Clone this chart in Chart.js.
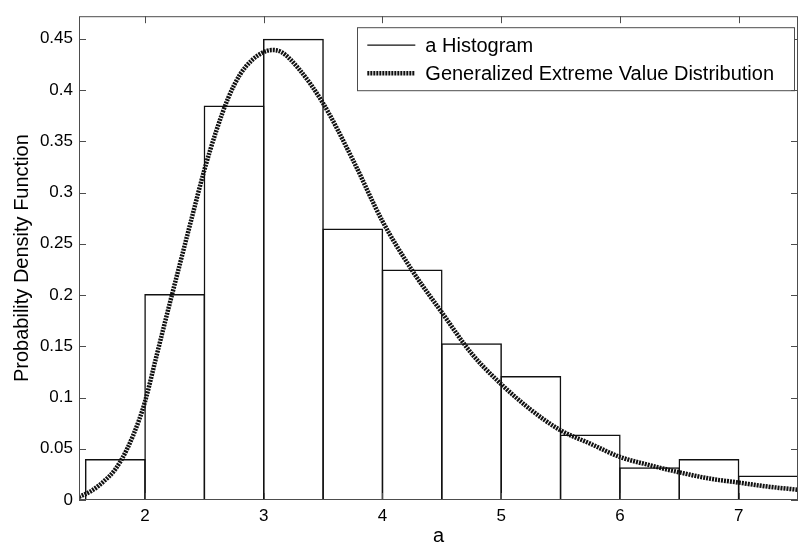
<!DOCTYPE html>
<html>
<head>
<meta charset="utf-8">
<script src="https://cdn.jsdelivr.net/npm/chart.js@4.4.1/dist/chart.umd.min.js"></script>
<style>
  html, body { margin: 0; padding: 0; background: #fff; }
  #wrap { width: 801px; height: 548px; }
</style>
</head>
<body>
<div id="wrap"><canvas id="chart" width="801" height="548"></canvas></div>
<script>
// histogram bins (width 0.5), centers and densities
const binCenters = [1.75, 2.25, 2.75, 3.25, 3.75, 4.25, 4.75, 5.25, 5.75, 6.25, 6.75, 7.25];
const binHeights = [0.040, 0.201, 0.385, 0.450, 0.265, 0.225, 0.153, 0.121, 0.064, 0.032, 0.040, 0.024];

// fitted GEV curve, sampled by eye
const curveX = [1.444, 1.55, 1.65, 1.75, 1.85, 1.95, 2.0, 2.1, 2.2, 2.3, 2.4, 2.5, 2.6, 2.7, 2.8, 2.9, 3.0, 3.07, 3.15, 3.3, 3.5, 3.75, 4.0, 4.25, 4.5, 4.75, 5.0, 5.25, 5.5, 5.75, 6.0, 6.25, 6.5, 6.75, 7.0, 7.25, 7.5];
const curveY = [0.003, 0.009, 0.018, 0.030, 0.050, 0.078, 0.096, 0.142, 0.188, 0.233, 0.278, 0.322, 0.360, 0.392, 0.415, 0.429, 0.437, 0.439, 0.437, 0.420, 0.387, 0.332, 0.272, 0.224, 0.183, 0.143, 0.113, 0.088, 0.068, 0.055, 0.042, 0.034, 0.027, 0.021, 0.017, 0.013, 0.010];

const xTicks = [2, 3, 4, 5, 6, 7];
const yTicks = [0, 0.05, 0.1, 0.15, 0.2, 0.25, 0.3, 0.35, 0.4, 0.45];

const X_MIN = 1.444, X_MAX = 7.5;
const Y_MIN = 0, Y_MAX = 0.472;

const FONT = "'Liberation Sans', Arial, sans-serif";
const AXIS_COLOR = "#4d4d4d";
const BAR_LINE = 1.5;

// box round the axes, with matlab style inward ticks
const framePlugin = {
  id: "frame",
  afterDatasetsDraw(chart) {
    const { ctx, chartArea: a, scales } = chart;
    ctx.save();
    ctx.strokeStyle = AXIS_COLOR;
    ctx.lineWidth = 1;
    ctx.strokeRect(a.left + 0.5, a.top + 0.5, a.right - a.left - 1, a.bottom - a.top - 1);
    ctx.beginPath();
    xTicks.forEach(v => {
      const px = Math.round(scales.x.getPixelForValue(v)) + 0.5;
      ctx.moveTo(px, a.bottom); ctx.lineTo(px, a.bottom - 7);
      ctx.moveTo(px, a.top); ctx.lineTo(px, a.top + 7);
    });
    yTicks.forEach(v => {
      const py = Math.round(scales.y.getPixelForValue(v)) + 0.5;
      ctx.moveTo(a.left, py); ctx.lineTo(a.left + 7, py);
      ctx.moveTo(a.right, py); ctx.lineTo(a.right - 7, py);
    });
    ctx.stroke();
    ctx.restore();
  },
  afterDraw(chart) {
    // boxed legend in the upper right corner
    const { ctx, chartArea: a } = chart;
    const items = chart.data.datasets;
    ctx.save();
    ctx.font = "20px " + FONT;
    const textW = Math.max(...items.map(d => ctx.measureText(d.label).width));
    const right = a.right - 4, top = a.top + 11;
    const left = right - (68 + textW + 20);
    const h = 63;
    ctx.fillStyle = "#fff";
    ctx.fillRect(left, top, right - left, h);
    ctx.strokeStyle = AXIS_COLOR;
    ctx.lineWidth = 1;
    ctx.strokeRect(Math.round(left) + 0.5, top + 0.5, Math.round(right - left), h);
    items.forEach((d, i) => {
      const y = top + 18 + i * 28;
      ctx.beginPath();
      ctx.strokeStyle = d.borderColor;
      ctx.lineWidth = d.legendWidth;
      ctx.setLineDash(d.borderDash || []);
      ctx.moveTo(left + 10, y);
      ctx.lineTo(left + 58, y);
      ctx.stroke();
      ctx.setLineDash([]);
      ctx.fillStyle = "#000";
      ctx.textBaseline = "middle";
      ctx.fillText(d.label, left + 68, y + 1);
    });
    ctx.restore();
  }
};

new Chart(document.getElementById("chart"), {
  type: "bar",
  data: {
    datasets: [
      {
        type: "bar",
        label: "a Histogram",
        data: binCenters.map((c, i) => ({ x: c, y: binHeights[i] })),
        backgroundColor: "rgba(0,0,0,0)",
        borderColor: "#111",
        borderWidth: BAR_LINE,
        legendWidth: 1.2,
        borderSkipped: "bottom",
        // widen a hair so neighbouring outlines sit on top of each other
        barPercentage: 1.025,
        categoryPercentage: 1,
        order: 1
      },
      {
        type: "line",
        label: "Generalized Extreme Value Distribution",
        data: curveX.map((x, i) => ({ x: x, y: curveY[i] })),
        borderColor: "#111",
        borderWidth: 4.5,
        legendWidth: 4.5,
        borderDash: [2, 1],
        pointRadius: 0,
        cubicInterpolationMode: "monotone",
        fill: false,
        order: 0
      }
    ]
  },
  options: {
    responsive: false,
    animation: false,
    events: [],
    layout: { padding: { left: 0, right: 3, top: 12, bottom: 0 } },
    plugins: { legend: { display: false }, tooltip: { enabled: false } },
    scales: {
      x: {
        type: "linear",
        min: X_MIN,
        max: X_MAX,
        offset: false,
        grid: { display: false, drawTicks: false },
        border: { display: false },
        afterBuildTicks: s => { s.ticks = xTicks.map(v => ({ value: v })); },
        afterFit: s => { s.height = 48; },
        ticks: { color: "#000", padding: 6, font: { family: FONT, size: 17 }, maxRotation: 0 },
        title: { display: true, text: "a", color: "#000", font: { family: FONT, size: 20 }, padding: { top: 0, bottom: 0 } }
      },
      y: {
        type: "linear",
        min: Y_MIN,
        max: Y_MAX,
        grid: { display: false, drawTicks: false },
        border: { display: false },
        afterBuildTicks: s => { s.ticks = yTicks.map(v => ({ value: v })); },
        afterFit: s => { s.width = 79; },
        ticks: {
          color: "#000",
          padding: 6,
          font: { family: FONT, size: 17 },
          callback: v => String(Number(v.toFixed(2)))
        },
        title: { display: true, text: "Probability Density Function", color: "#000", font: { family: FONT, size: 20 }, padding: { top: 10, bottom: 0 } }
      }
    }
  },
  plugins: [framePlugin]
});
</script>
</body>
</html>
